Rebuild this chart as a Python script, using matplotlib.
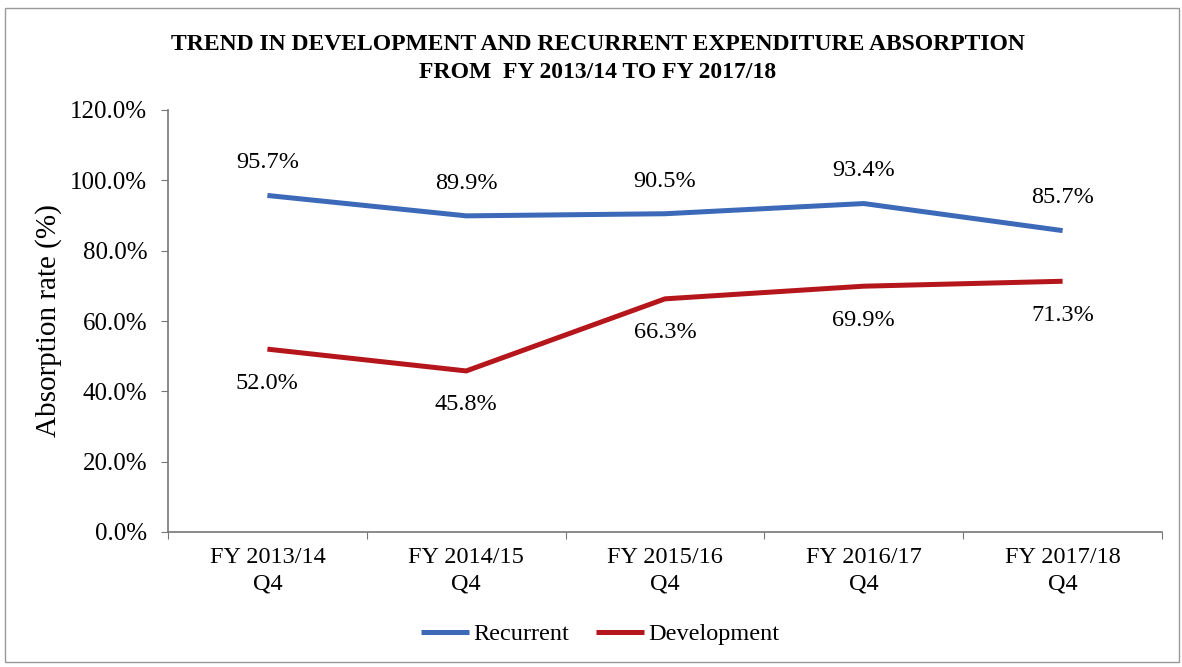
import numpy as np
import matplotlib.pyplot as plt
from matplotlib.patches import Rectangle
from matplotlib.ticker import FuncFormatter, FixedLocator

categories = ['FY 2013/14\nQ4', 'FY 2014/15\nQ4', 'FY 2015/16\nQ4', 'FY 2016/17\nQ4', 'FY 2017/18\nQ4']
recurrent = [95.7, 89.9, 90.5, 93.4, 85.7]
development = [52.0, 45.8, 66.3, 69.9, 71.3]

plt.rcParams['font.family'] = ['Liberation Serif', 'DejaVu Serif']

W, H = 1182, 667
fig = plt.figure(figsize=(W / 100, H / 100), dpi=100)
ax = fig.add_axes([168 / W, 1 - 532 / H, (1162 - 168) / W, (532 - 110) / H])

x = np.arange(len(categories))
ax.plot(x, recurrent, color='#3D69B9', lw=3.6, label='Recurrent', solid_capstyle='butt')
ax.plot(x, development, color='#B5161B', lw=3.6, label='Development', solid_capstyle='butt')

for xi, v in zip(x, recurrent):
    ax.annotate(f'{v:.1f}%', (xi, v), xytext=(0, 23.5), textcoords='offset points',
                ha='center', va='center', fontsize=17.5)
for xi, v in zip(x, development):
    ax.annotate(f'{v:.1f}%', (xi, v), xytext=(0, -24.5), textcoords='offset points',
                ha='center', va='center', fontsize=17.5)

ax.set_xlim(-0.5, len(categories) - 0.5)
ax.set_ylim(0, 120)
ax.set_yticks(np.arange(0, 121, 20))
ax.yaxis.set_major_formatter(FuncFormatter(lambda v, p: f'{v:.1f}%'))
ax.xaxis.set_major_locator(FixedLocator(np.arange(-0.5, len(categories), 1)))
ax.xaxis.set_major_formatter(FuncFormatter(lambda v, p: ''))
ax.set_xticks(x, categories, minor=True)
ax.tick_params(axis='x', which='minor', length=0, labelsize=17.5, pad=11)
ax.tick_params(axis='x', which='major', length=5, color='#777777', direction='out')
ax.tick_params(axis='y', length=5, color='#777777', labelsize=18, pad=10)
for lbl in ax.get_xticklabels(minor=True):
    lbl.set_linespacing(1.3)

for s in ['top', 'right']:
    ax.spines[s].set_visible(False)
for s in ['left', 'bottom']:
    ax.spines[s].set_color('#777777')
    ax.spines[s].set_linewidth(1.2)

ax.set_ylabel('Absorption rate (%)', fontsize=21, labelpad=6)

fig.text(598 / W, 1 - 45 / H, 'TREND IN DEVELOPMENT AND RECURRENT EXPENDITURE ABSORPTION',
         ha='center', va='center', fontsize=17, fontweight='bold')
fig.text(598 / W, 1 - 73 / H, 'FROM  FY 2013/14 TO FY 2017/18',
         ha='center', va='center', fontsize=17, fontweight='bold')

fig.legend(loc='center', bbox_to_anchor=(600 / W, 1 - 634 / H), ncol=2, frameon=False,
           fontsize=17.5, handlelength=2.0, handletextpad=0.15, columnspacing=1.1)

fig.patches.append(Rectangle((5 / W, 1 - 662 / H), 1174 / W, 654 / H, transform=fig.transFigure,
                             fill=False, edgecolor='#999999', lw=1.0))

fig.savefig('out.png', dpi=100)
